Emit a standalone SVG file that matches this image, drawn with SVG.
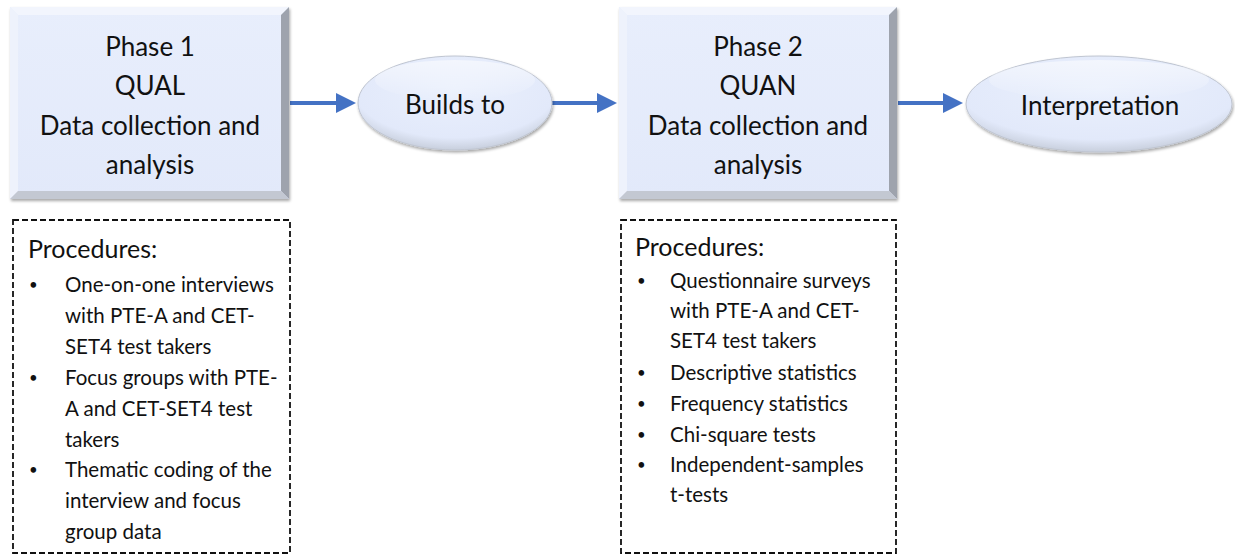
<svg xmlns="http://www.w3.org/2000/svg" width="1235" height="556" viewBox="0 0 1235 556">
<style>
.t{font-family:Lato,"Open Sans","Liberation Sans",sans-serif;fill:#111;}
.h{font-size:26px;text-anchor:middle;}
.p{font-size:25px;}
.b{font-size:20.5px;}
.dot{font-size:15px;}
.dash{fill:#fff;stroke:#111;stroke-width:1.8;stroke-dasharray:6,3;}
.conn{stroke:#4472C4;stroke-width:4;fill:none;}
</style>
<defs>
<linearGradient id="boxg" x1="0" y1="0" x2="0" y2="1">
<stop offset="0" stop-color="#E8EEFC"/><stop offset="1" stop-color="#E2E9FA"/>
</linearGradient>
<radialGradient id="ellg" cx="0.5" cy="0.35" r="0.65">
<stop offset="0" stop-color="#EAF0FD"/><stop offset="0.8" stop-color="#E2E9FA"/><stop offset="1" stop-color="#C8CFDD"/>
</radialGradient>
<linearGradient id="hl" x1="0" y1="0" x2="0" y2="1">
<stop offset="0" stop-color="#FFFFFF" stop-opacity="0.9"/><stop offset="1" stop-color="#FFFFFF" stop-opacity="0"/>
</linearGradient>
<filter id="sh" x="-10%" y="-10%" width="120%" height="125%">
<feGaussianBlur in="SourceAlpha" stdDeviation="1.5"/><feOffset dx="1" dy="2"/>
<feComponentTransfer><feFuncA type="linear" slope="0.35"/></feComponentTransfer>
<feMerge><feMergeNode/><feMergeNode in="SourceGraphic"/></feMerge>
</filter>
<marker id="arr" markerWidth="5" markerHeight="5" refX="4" refY="2.5" orient="auto" markerUnits="strokeWidth">
<path d="M0,0 L5,2.5 L0,5 Z" fill="#4472C4"/>
</marker>
</defs>

<g id="connectors">
<line class="conn" x1="290" y1="103" x2="352" y2="103" marker-end="url(#arr)"/>
<line class="conn" x1="552" y1="103" x2="613" y2="103" marker-end="url(#arr)"/>
<line class="conn" x1="898" y1="103" x2="959" y2="103" marker-end="url(#arr)"/>
</g>

<g id="phase1">
<g filter="url(#sh)">
<rect x="10" y="7" width="279" height="192" fill="url(#boxg)"/>
<polygon points="10,7 289,7 281,15 18,15" fill="#F2F5FD"/>
<polygon points="10,7 18,15 18,191 10,199" fill="#EEF2FC"/>
<polygon points="289,7 289,199 281,191 281,15" fill="#9EA3AD"/>
<polygon points="10,199 289,199 281,191 18,191" fill="#C3C8D2"/>
</g>
<text class="t h" x="150" y="56">Phase 1</text>
<text class="t h" x="150" y="95">QUAL</text>
<text class="t h" x="150" y="135">Data collection and</text>
<text class="t h" x="150" y="174">analysis</text>
</g>

<g id="buildsto">
<ellipse cx="455" cy="103" rx="97" ry="47" fill="url(#ellg)" stroke="#BFC5D1" stroke-width="1" filter="url(#sh)"/>
<ellipse cx="455" cy="80" rx="80" ry="20" fill="url(#hl)" opacity="0.6"/>
<text class="t h" x="455" y="114">Builds to</text>
</g>

<g id="phase2">
<g filter="url(#sh)">
<rect x="619" y="7" width="278" height="192" fill="url(#boxg)"/>
<polygon points="619,7 897,7 889,15 627,15" fill="#F2F5FD"/>
<polygon points="619,7 627,15 627,191 619,199" fill="#EEF2FC"/>
<polygon points="897,7 897,199 889,191 889,15" fill="#9EA3AD"/>
<polygon points="619,199 897,199 889,191 627,191" fill="#C3C8D2"/>
</g>
<text class="t h" x="758" y="56">Phase 2</text>
<text class="t h" x="758" y="95">QUAN</text>
<text class="t h" x="758" y="135">Data collection and</text>
<text class="t h" x="758" y="174">analysis</text>
</g>

<g id="interpretation">
<ellipse cx="1099" cy="104" rx="133" ry="48" fill="url(#ellg)" stroke="#BFC5D1" stroke-width="1" filter="url(#sh)"/>
<ellipse cx="1099" cy="80" rx="110" ry="20" fill="url(#hl)" opacity="0.6"/>
<text class="t h" x="1100" y="115">Interpretation</text>
</g>

<g id="procedures1">
<rect class="dash" x="13" y="220" width="277" height="333"/>
<text class="t p" x="28" y="258">Procedures:</text>
<g class="t b">
<text class="dot" x="29" y="290">•</text><text x="65" y="292">One-on-one interviews</text>
<text x="65" y="323">with PTE-A and CET-</text>
<text x="65" y="354">SET4 test takers</text>
<text class="dot" x="29" y="383">•</text><text x="65" y="385">Focus groups with PTE-</text>
<text x="65" y="416">A and CET-SET4 test</text>
<text x="65" y="447">takers</text>
<text class="dot" x="29" y="475">•</text><text x="65" y="477">Thematic coding of the</text>
<text x="65" y="508">interview and focus</text>
<text x="65" y="539">group data</text>
</g>
</g>

<g id="procedures2">
<rect class="dash" x="621" y="220" width="275" height="333"/>
<text class="t p" x="635" y="256">Procedures:</text>
<g class="t b">
<text class="dot" x="637" y="286">•</text><text x="670" y="288">Questionnaire surveys</text>
<text x="670" y="318">with PTE-A and CET-</text>
<text x="670" y="348">SET4 test takers</text>
<text class="dot" x="637" y="378">•</text><text x="670" y="380">Descriptive statistics</text>
<text class="dot" x="637" y="409">•</text><text x="670" y="411">Frequency statistics</text>
<text class="dot" x="637" y="440">•</text><text x="670" y="442">Chi-square tests</text>
<text class="dot" x="637" y="470">•</text><text x="670" y="472">Independent-samples</text>
<text x="670" y="502">t-tests</text>
</g>
</g>
</svg>
